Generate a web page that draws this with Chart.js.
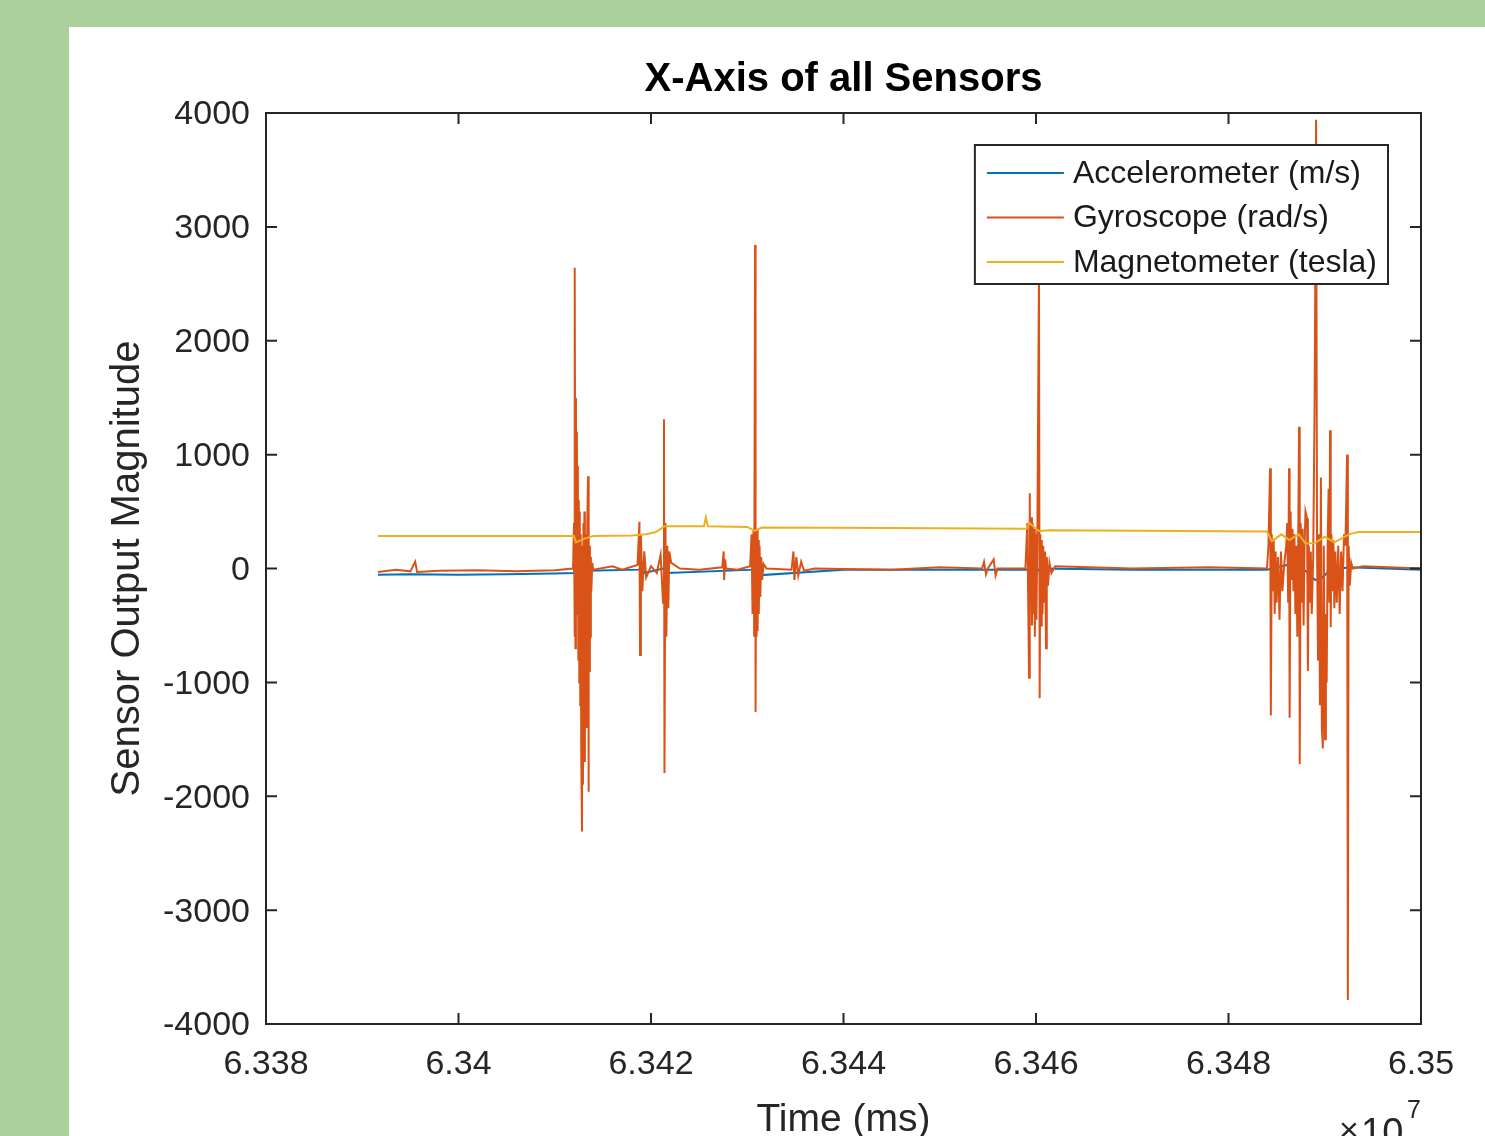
<!DOCTYPE html>
<html>
<head>
<meta charset="utf-8">
<title>X-Axis of all Sensors</title>
<script src="https://cdn.jsdelivr.net/npm/chart.js@4.4.1/dist/chart.umd.min.js"></script>
<style>
  html, body { margin: 0; padding: 0; background: #abd09b; overflow: hidden; }
  #panel { position: absolute; left: 69px; top: 27px; width: 1416px; height: 1109px; background: #fff; }
  #c { display: block; }
</style>
</head>
<body>
<div id="panel"><canvas id="c" width="1416" height="1109"></canvas></div>
<script>
// time in ms (axis is x10^7)
const accTime = [63391640, 63395000, 63400000, 63405000, 63410000, 63412000, 63412400, 63412800, 63413300,
  63418800, 63419000, 63419300, 63421300, 63421500, 63421700, 63430700, 63430900, 63431100, 63440000,
  63459200, 63459500, 63459800, 63460400, 63470000, 63484000, 63486000, 63488000, 63489000, 63489600,
  63490500, 63492500, 63500000];
const accVal = [-55, -50, -55, -50, -45, -40, 150, -200, -20,
  -10, 60, -40, 0, 80, -40, -10, 100, -60, -10,
  -10, 80, -60, 0, -10, -10, 30, -20, -100, -90,
  -20, 10, -10];

const gyroTime = [63391640, 63393500, 63395000, 63395500, 63395700, 63398000, 63402000, 63406000, 63410000,
  63411900, 63412000, 63412050, 63412100, 63412150, 63412200, 63412250, 63412300, 63412350, 63412400,
  63412450, 63412500, 63412550, 63412600, 63412650, 63412700, 63412750, 63412830, 63412880, 63412930,
  63412980, 63413030, 63413080, 63413130, 63413180, 63413230, 63413280, 63413330, 63413380, 63413460,
  63413500, 63413550, 63413600, 63413650, 63413700, 63413750, 63413800, 63413900, 63414000, 63416000,
  63417000, 63418600, 63418800, 63418860, 63418950, 63419100, 63419300, 63419500, 63420000, 63420600,
  63421000, 63421250, 63421350, 63421400, 63421500, 63421600, 63421700, 63421800, 63421900, 63422100,
  63423000, 63425000, 63427400, 63427550, 63427600, 63427700, 63427800, 63429000, 63430300, 63430450,
  63430550, 63430650, 63430720, 63430810, 63430850, 63430880, 63430920, 63430970, 63431020, 63431080,
  63431140, 63431200, 63431280, 63431360, 63431450, 63431550, 63431700, 63432000, 63434600, 63434800,
  63434900, 63435100, 63435300, 63435600, 63435900, 63437000, 63445000, 63450000, 63454400, 63454600,
  63454800, 63455000, 63455600, 63455800, 63456000, 63458900, 63459100, 63459280, 63459350, 63459420,
  63459500, 63459580, 63459650, 63459720, 63459800, 63459880, 63459950, 63460050, 63460150, 63460310,
  63460380, 63460450, 63460520, 63460600, 63460680, 63460760, 63460850, 63460950, 63461040, 63461120,
  63461250, 63461400, 63461600, 63462000, 63470000, 63478000, 63484000, 63484150, 63484320, 63484400,
  63484500, 63484600, 63484700, 63484800, 63484900, 63485000, 63485150, 63485300, 63485450, 63485600,
  63485800, 63486000, 63486100, 63486200, 63486290, 63486350, 63486450, 63486550, 63486650, 63486750,
  63486850, 63486950, 63487050, 63487150, 63487250, 63487330, 63487400, 63487500, 63487600, 63487700,
  63487800, 63487900, 63488000, 63488160, 63488250, 63488350, 63488450, 63488550, 63488650, 63488800,
  63488950, 63489100, 63489200, 63489300, 63489400, 63489500, 63489600, 63489700, 63489800, 63489900,
  63490030, 63490120, 63490200, 63490300, 63490400, 63490480, 63490550, 63490620, 63490700, 63490800,
  63490900, 63491000, 63491100, 63491250, 63491400, 63491550, 63491700, 63491850, 63492000, 63492150,
  63492320, 63492400, 63492480, 63492600, 63492750, 63492900, 63494000, 63500000];
const gyroVal = [-30, -10, -25, 60, -30, -20, -15, -25, -15,
  0, 400, -600, 2640, -700, 1500, -300, 1200, -400, 900,
  -800, 600, -1000, 500, -1200, 300, -1600, -2310, 200, -1900,
  400, -1500, 500, -1700, 300, -1200, 150, -1400, 400, 810,
  -1960, 300, -900, 200, -600, 100, -200, 50, -10, 20,
  -10, 30, 410, -760, 300, -200, 150, -80, 20, -40,
  120, -300, 1310, -1795, 400, -600, 200, -350, 150, 50,
  0, -10, 10, 150, -100, 80, 0, -10, 20, 300,
  -400, 340, -600, 2840, -500, -1260, 300, -600, 350, -550,
  250, -400, 200, -250, 100, -100, 40, 0, -10, 150,
  -100, 100, -60, 60, -20, 0, -10, 10, 0, 60,
  -50, 0, 80, -60, 0, 0, 400, -960, 660, -300,
  450, -500, 400, -400, 350, -600, 300, -450, 400, 2620,
  -1140, 300, -500, 250, -400, 200, -300, 150, -700, 100,
  -150, 50, -40, 20, 0, 10, 0, 200, 880, -1290,
  300, -200, 250, -400, 150, -300, 100, -450, 150, -200,
  50, 200, 400, -300, 880, -1310, 500, -100, 350, -200,
  300, -400, 200, -600, 300, 1245, -1720, 400, -300, 350,
  -500, 200, 500, 440, -900, 200, -300, 150, -400, 100,
  1500, 3940, 200, -800, 300, -1200, 800, -1400, -1580, 200,
  -1500, -400, -1000, 200, 700, -300, 1215, -515, 300, -200,
  250, -350, 150, -300, 200, -400, 150, -200, 300, 200,
  1000, -3790, 200, -150, 50, 0, 20, 0];

const magTime = [63391640, 63410000, 63412000, 63412200, 63413000, 63414000, 63418000, 63419500, 63420500,
  63421400, 63425500, 63425700, 63425900, 63430000, 63430800, 63431500, 63445000, 63459000, 63459300,
  63460300, 63461500, 63475000, 63484000, 63484500, 63485500, 63486300, 63487300, 63488000, 63489000,
  63490000, 63491000, 63492500, 63493500, 63500000];
const magVal = [285, 285, 285, 230, 260, 285, 290, 300, 320,
  370, 370, 450, 370, 365, 330, 360, 355, 350, 400,
  330, 335, 330, 325, 240, 300, 250, 300, 220, 225,
  280, 230, 300, 320, 320];

const seriesLabels = ['Accelerometer (m/s)', 'Gyroscope (rad/s)', 'Magnetometer (tesla)'];
const seriesColors = ['#0072BD', '#D95319', '#EDB120'];

const xMin = 63380000, xMax = 63500000, xStep = 20000;
const yMin = -4000, yMax = 4000, yStep = 1000;

const FONT = '"Liberation Sans", Arial, sans-serif';
const AX = '#262626';

const pts = (t, v) => t.map((x, i) => ({ x, y: v[i] }));

// MATLAB-style box with inward ticks, legend and x10^7 exponent
const matlabAxes = {
  id: 'matlabAxes',
  afterDraw(chart) {
    const { ctx, chartArea: a, scales: { x, y } } = chart;
    const tl = 11;
    ctx.save();
    ctx.strokeStyle = AX;
    ctx.lineWidth = 2;
    ctx.strokeRect(a.left, a.top, a.right - a.left, a.bottom - a.top);
    ctx.beginPath();
    x.ticks.forEach(t => {
      const px = x.getPixelForValue(t.value);
      ctx.moveTo(px, a.bottom); ctx.lineTo(px, a.bottom - tl);
      ctx.moveTo(px, a.top); ctx.lineTo(px, a.top + tl);
    });
    y.ticks.forEach(t => {
      const py = y.getPixelForValue(t.value);
      ctx.moveTo(a.left, py); ctx.lineTo(a.left + tl, py);
      ctx.moveTo(a.right, py); ctx.lineTo(a.right - tl, py);
    });
    ctx.stroke();

    // legend
    ctx.font = '32px ' + FONT;
    const labels = chart.data.datasets.map(d => d.label);
    const tw = Math.max(...labels.map(l => ctx.measureText(l).width));
    const padL = 12, lineLen = 77, gap = 9, padR = 11, rowH = 44.5;
    const w = padL + lineLen + gap + tw + padR;
    const h = 139;
    const bx = a.right - 33 - w, by = a.top + 32;
    ctx.fillStyle = '#fff';
    ctx.fillRect(bx, by, w, h);
    ctx.strokeStyle = AX;
    ctx.lineWidth = 2;
    ctx.strokeRect(bx, by, w, h);
    ctx.textBaseline = 'middle';
    ctx.textAlign = 'left';
    chart.data.datasets.forEach((d, i) => {
      const ry = by + 28 + i * rowH;
      ctx.strokeStyle = d.borderColor;
      ctx.lineWidth = 2;
      ctx.beginPath();
      ctx.moveTo(bx + padL, ry); ctx.lineTo(bx + padL + lineLen, ry);
      ctx.stroke();
      ctx.fillStyle = '#1a1a1a';
      ctx.fillText(d.label, bx + padL + lineLen + gap, ry + 1);
    });

    // exponent
    ctx.fillStyle = AX;
    ctx.textBaseline = 'alphabetic';
    ctx.font = '34px ' + FONT;
    ctx.fillText('\u00d7', a.right - 82, a.bottom + 117);
    ctx.font = '38px ' + FONT;
    ctx.fillText('10', a.right - 60, a.bottom + 121);
    ctx.font = '25px ' + FONT;
    ctx.fillText('7', a.right - 14, a.bottom + 94);
    ctx.restore();
  }
};

new Chart(document.getElementById('c'), {
  type: 'line',
  data: {
    datasets: [
      { label: seriesLabels[0], data: pts(accTime, accVal), borderColor: seriesColors[0], order: 3 },
      { label: seriesLabels[1], data: pts(gyroTime, gyroVal), borderColor: seriesColors[1], order: 2 },
      { label: seriesLabels[2], data: pts(magTime, magVal), borderColor: seriesColors[2], order: 1 },
    ]
  },
  options: {
    responsive: false,
    animation: false,
    elements: { point: { radius: 0 }, line: { borderWidth: 2, tension: 0 } },
    layout: { autoPadding: false, padding: { top: 0, right: 64, bottom: 0, left: 0 } },
    plugins: {
      legend: { display: false },
      tooltip: { enabled: false },
      title: {
        display: true, text: 'X-Axis of all Sensors', fullSize: false, color: '#000',
        font: { family: FONT, size: 40, weight: 'bold', lineHeight: 1.2 },
        padding: { top: 29, bottom: 9 }
      }
    },
    scales: {
      x: {
        type: 'linear', min: xMin, max: xMax,
        grid: { display: false, drawTicks: false },
        border: { display: false },
        ticks: {
          stepSize: xStep, padding: 20, color: AX, maxRotation: 0, autoSkip: false,
          font: { family: FONT, size: 34 },
          callback: v => parseFloat((v / 1e7).toFixed(4)).toString()
        },
        title: { display: true, text: 'Time (ms)', color: AX, font: { family: FONT, size: 39, lineHeight: 0.8 }, padding: 0 },
        afterFit: s => { s.height = 112; }
      },
      y: {
        min: yMin, max: yMax,
        grid: { display: false, drawTicks: false },
        border: { display: false },
        ticks: {
          stepSize: yStep, padding: 16, color: AX, labelOffset: 2,
          font: { family: FONT, size: 34 },
          callback: v => String(v)
        },
        title: { display: true, text: 'Sensor Output Magnitude', color: AX, font: { family: FONT, size: 40, lineHeight: 1.2 }, padding: { top: 35, bottom: 0 } },
        afterFit: s => { s.width = 197; }
      }
    }
  },
  plugins: [matlabAxes]
});
</script>
</body>
</html>
